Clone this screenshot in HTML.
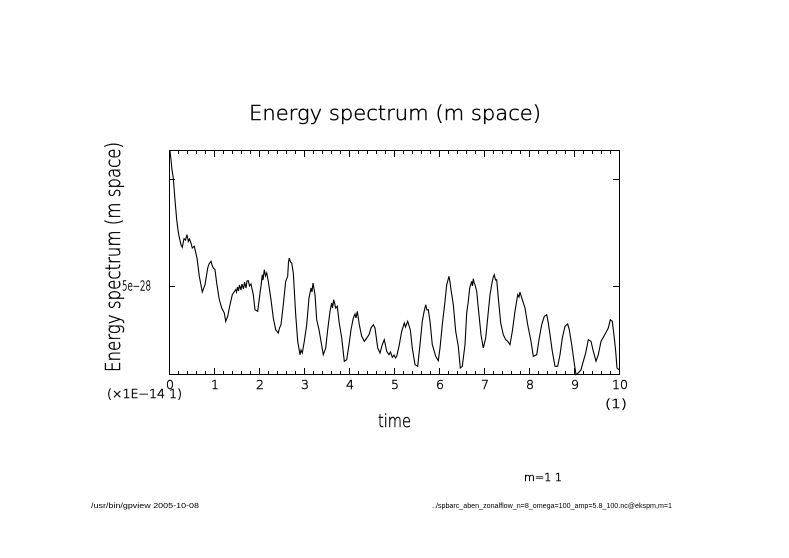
<!DOCTYPE html>
<html>
<head>
<meta charset="utf-8">
<style>
  html, body { margin: 0; padding: 0; background: #fff; }
  svg { display: block; }
  text { font-family: "DejaVu Sans", "Liberation Sans", sans-serif; font-weight: 200; fill: #000; stroke: #000; stroke-width: 0.45; }
  text.ft { font-family: "Liberation Sans", sans-serif; font-weight: 400; stroke: none; }
</style>
</head>
<body>
<svg width="789" height="558" viewBox="0 0 789 558" xmlns="http://www.w3.org/2000/svg">
  <rect x="0" y="0" width="789" height="558" fill="#fff"/>

  <!-- Title -->
  <text x="249" y="120" font-size="20" textLength="292" lengthAdjust="spacingAndGlyphs">Energy spectrum (m space)</text>

  <!-- Y axis label -->
  <text transform="translate(120,372) rotate(-90)" x="0" y="0" font-size="20" textLength="230" lengthAdjust="spacingAndGlyphs">Energy spectrum (m space)</text>

  <!-- Frame -->
  <rect x="169.5" y="150.5" width="450" height="224" fill="none" stroke="#000" stroke-width="1"/>

  <!-- X minor ticks bottom / top -->
  <line x1="169" y1="372.5" x2="620" y2="372.5" stroke="#000" stroke-width="3" stroke-dasharray="1 8"/>
  <line x1="169" y1="152.5" x2="620" y2="152.5" stroke="#000" stroke-width="3" stroke-dasharray="1 8"/>
  <!-- X major ticks bottom / top -->
  <line x1="169" y1="371" x2="620" y2="371" stroke="#000" stroke-width="6" stroke-dasharray="1 44"/>
  <line x1="169" y1="154" x2="620" y2="154" stroke="#000" stroke-width="6" stroke-dasharray="1 44"/>

  <!-- Y ticks -->
  <path d="M169 179.5 H175 M169 286.5 H175 M613 179.5 H619.5 M613 286.5 H619.5" stroke="#000" stroke-width="1" fill="none"/>

  <!-- Y tick label -->
  <text x="151" y="290.5" font-size="13" text-anchor="end" textLength="29" lengthAdjust="spacingAndGlyphs">5e−28</text>

  <!-- X tick labels -->
  <g font-size="12.5" text-anchor="middle">
    <text x="170" y="389">0</text>
    <text x="215" y="389">1</text>
    <text x="260" y="389">2</text>
    <text x="305" y="389">3</text>
    <text x="350" y="389">4</text>
    <text x="395" y="389">5</text>
    <text x="440" y="389">6</text>
    <text x="485" y="389">7</text>
    <text x="530" y="389">8</text>
    <text x="575" y="389">9</text>
    <text x="620" y="389">10</text>
  </g>
  <text x="107" y="398" font-size="12.5" textLength="75" lengthAdjust="spacingAndGlyphs">(×1E−14 1)</text>
  <text x="605" y="408" font-size="12.5" textLength="22" lengthAdjust="spacingAndGlyphs">(1)</text>

  <!-- X axis label -->
  <text x="378" y="427" font-size="18" textLength="33" lengthAdjust="spacingAndGlyphs">time</text>

  <!-- annotation -->
  <text x="524" y="481" font-size="10.5" textLength="38" lengthAdjust="spacingAndGlyphs">m=1 1</text>

  <!-- footers -->
  <text class="ft" x="91" y="508" font-size="7" textLength="108" lengthAdjust="spacingAndGlyphs">/usr/bin/gpview  2005-10-08</text>
  <text class="ft" x="432" y="508" font-size="7" textLength="240" lengthAdjust="spacingAndGlyphs">../spbarc_aben_zonalflow_n=8_omega=100_amp=5.8_100.nc@ekspm,m=1</text>

  <!-- Data curve -->
  <polyline fill="none" stroke="#000" stroke-width="1.1" stroke-linejoin="miter" points="
    170,151 171,160 172,170 173.3,178 175,200 176.7,219.7 178,230 179,236 181,244.7 182.3,247.3
    184,238.7 185.5,240 187,234.7 188.3,241.3 189.5,239 191,243 192.3,248 194.3,246.3
    197,258 199.3,276.3 202.3,292 205,284.7 207.7,268 209,264 211,261.3 212,265 213.3,268 215,269.7
    216.7,283 219,298 220,302 221.7,308 224.3,313 225.7,321.3 227.7,316.3 230,304.7 232.3,294.7
    234,292 235.7,289.7 236.5,292 237.5,287 238.5,291 239.5,285 241,290 242,284 243.5,289
    244.5,282 246,288 247,281 248.3,280.7 249.5,286 251,284 253.3,294.7 255,309.7 257.7,311.3
    260,293 261,286 262.3,274.7 263,280 264.3,269.7 265.5,276 266.7,273 268.3,281.3 271,299.7
    273.3,318 275.7,329.7 278.3,333 279.5,328 281,324.7 283.3,304.7 285.7,281.3 287.7,276.3
    288.5,262 289.3,258 290.5,262 291.7,263 293.3,273 295.7,314.7 297.7,341.3 300,354.7
    301,350 302.3,353 304.3,341.3 306.7,324.7 309,298 311,288 312,292 313,283 315,294.7
    316.7,319.7 319,329.7 321,341.3 323.3,354.7 325.7,348 327.7,329.7 330,311.3 331.7,303
    332.5,308 333.7,299.7 335.7,308 337.3,306.3 339,321.3 341.7,338 344.3,361.3 346.7,359.7
    349,344.7 351,329.7 353.3,318 355,314 356,318 357.3,311.3 359.3,324.7 361.7,336.3
    364.3,341.3 366.7,338 369,334.7 371,328 373.3,324.7 375,328 377.7,348 380,353 382.3,344.7
    384.3,339.7 386.7,351.3 389,354.7 390.5,352 392.3,357.3 394,355 395.5,358 396.7,356.3
    399,346.3 401.7,331.3 404.3,323 405.5,327 407.7,321.3 410.3,329.7 412.3,348 415,364.7
    417.7,366.3 420,344.7 422.3,321.3 424,312 425.7,304.7 427,310 428.3,309.7 430,321.3
    432.3,344.7 435.7,356.3 438.3,360.7 440,348 442.3,324.7 445,301.3 446.7,284.7 448,280
    449,276.3 450,282 451,289.7 453.3,304.7 455.7,331.3 458.3,346.3 460.3,368 462.3,366.3
    465,344.7 466.7,313 468.3,301.3 469.7,288 471.7,281.3 472.5,286 473.3,278.7 474.2,283
    475,284.7 476.7,291.3 478.3,308 481,334.7 483.3,348 485.7,338 487.7,318 490,294.7
    492.3,281.3 493.3,277 494.3,274.7 495.5,280 496.7,279.7 498.3,298 500.7,323 503.3,334.7
    505.7,339.7 507.7,341.3 510,344.7 512.3,331.3 515,311.3 517.7,294.7 519,297 520,292
    522.3,299.7 525,308 527.7,324.7 531,341.3 533.3,356.3 536.7,354.7 539,339.7 541.7,324.7
    544.3,316.3 546.7,314.7 548.3,323 550,334.7 552.3,351.3 555,366.3 557.7,366.3 560,354.7
    562.3,338 565,326.3 567.7,324 569.3,329.7 571.7,344.7 574,361.3 576,374.7 578.3,373
    581,369.7 583.3,361.3 585.7,353 588.3,339.7 591,341.3 593.3,351.3 596,361.3 598.3,354.7
    601,341.3 603.3,337.3 605.7,333 608.3,328 610.3,319.7 612.3,321.3 614.3,338 615.7,351.3
    617,368 619,369.7"/>
</svg>
</body>
</html>
